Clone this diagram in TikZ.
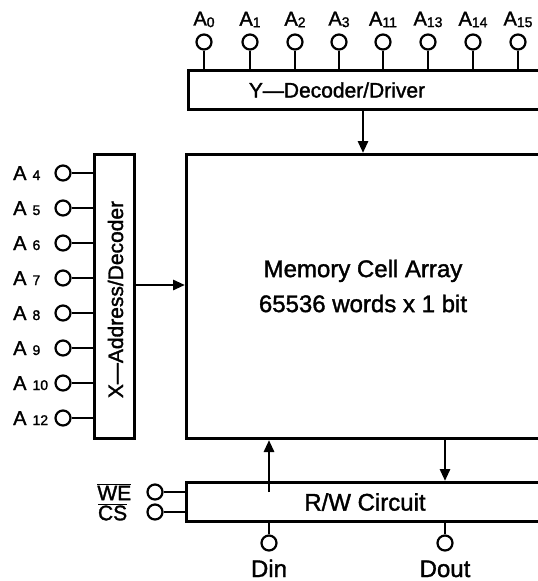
\documentclass[tikz,border=0pt]{standalone}
\usepackage{fontspec}
\setmainfont{Liberation Sans}[FakeBold=1.5]
\usetikzlibrary{positioning,arrows.meta,calc}
\tikzset{
  blk/.style ={draw, line width=3pt, inner sep=0pt},
  pin/.style ={circle, draw, line width=2.2pt, minimum size=15pt, inner sep=0pt},
  wire/.style={line width=2.4pt},
  bus/.style ={line width=2.8pt, -{Triangle[length=12pt,width=10pt]}},
  lbl/.style ={inner sep=0pt, font=\fontsize{20}{20}\selectfont},
  ctl/.style ={inner sep=0pt, font=\fontsize{21}{21}\selectfont},
  big/.style ={inner sep=0pt, font=\fontsize{24}{35}\selectfont, align=center},
}
\newcommand{\pinno}[2]{#1\raisebox{-0.15ex}{\fontsize{14}{14}\selectfont#2}}
\newcommand{\pinsp}[2]{#1\hspace{6pt}{\fontsize{14}{14}\selectfont#2}}
\def\toppins{0/204, 1/250, 2/295, 3/339, 11/383, 13/428, 14/473, 15/518}
\def\leftpins{4/173, 5/208, 6/243, 7/278, 8/313, 9/348, 10/383, 12/418}
\begin{document}
\begin{tikzpicture}[x=1pt,y=-1pt]
\useasboundingbox (0,0) rectangle (538,581);
\clip (0,0) rectangle (538,581);
% blocks (right side runs off the page)
\node[blk, anchor=north west, minimum width=400pt, minimum height=39pt]  (ydec) at (187,69) {};
\node[blk, anchor=north west, minimum width=400pt, minimum height=284pt] (mem)  at (185,153) {};
\node[blk, anchor=north west, minimum width=40pt,  minimum height=284pt] (xdec) at (93,153) {};
\node[blk, anchor=north west, minimum width=400pt, minimum height=39pt]  (rw)   at (185,481) {};
\node[big, font=\fontsize{21}{21}\selectfont] (ydectxt) at (337,90) {Y---Decoder/Driver};
\node[big, rotate=90, font=\fontsize{21}{21}\selectfont] (xdectxt) at ($(xdec.center)+(1,3)$) {X---Address/Decoder};
\node[big] (memtxt) at (363,286) {Memory Cell Array\\65536 words x 1 bit};
\node[big] (rwtxt) at (365,502) {R/W Circuit};
% address pins
\foreach \n/\x in \toppins {
  \node[pin] (a\n) at (\x,42) {};
  \node[lbl, above=6pt of a\n] {\pinno{A}{\n}};
  \draw[wire] (a\n.south) -- (ydec.north -| a\n);
}
\foreach \n/\y in \leftpins {
  \node[pin] (a\n) at (63,\y) {};
  \node[lbl, anchor=base west] at (13,\y+7) {\pinsp{A}{\n}};
  \draw[wire] (a\n.east) -- (xdec.west |- a\n);
}
% control and data pins
\node[pin] (we) at (155,492) {};
\node[pin] (cs) at (155,512) {};
\node[ctl, left=15pt of we] {$\overline{\mbox{WE}}$};
\node[ctl, left=19pt of cs] {$\overline{\mbox{CS}}$};
\draw[wire] (we.east) -- (rw.west |- we);
\draw[wire] (cs.east) -- (rw.west |- cs);
\node[pin] (din)  at (269,543) {};
\node[pin] (dout) at (445,543) {};
\node[big, anchor=base] at ($(din)+(0,34)$)  {Din};
\node[big, anchor=base] at ($(dout)+(0,34)$) {Dout};
\draw[wire] (rw.south -| din)  -- (din.north);
\draw[wire] (rw.south -| dout) -- (dout.north);
% data paths
\coordinate (yx) at (363,0);
\coordinate (xy) at (0,285);
\draw[bus] (ydec.south -| yx) -- (mem.north -| yx);
\draw[bus] (xdec.east |- xy) -- (mem.west |- xy);
\draw[bus] ($(rw.north -| din)+(0,11)$) -- (mem.south -| din);
\draw[bus] (mem.south -| dout) -- (rw.north -| dout);
\end{tikzpicture}
\end{document}
